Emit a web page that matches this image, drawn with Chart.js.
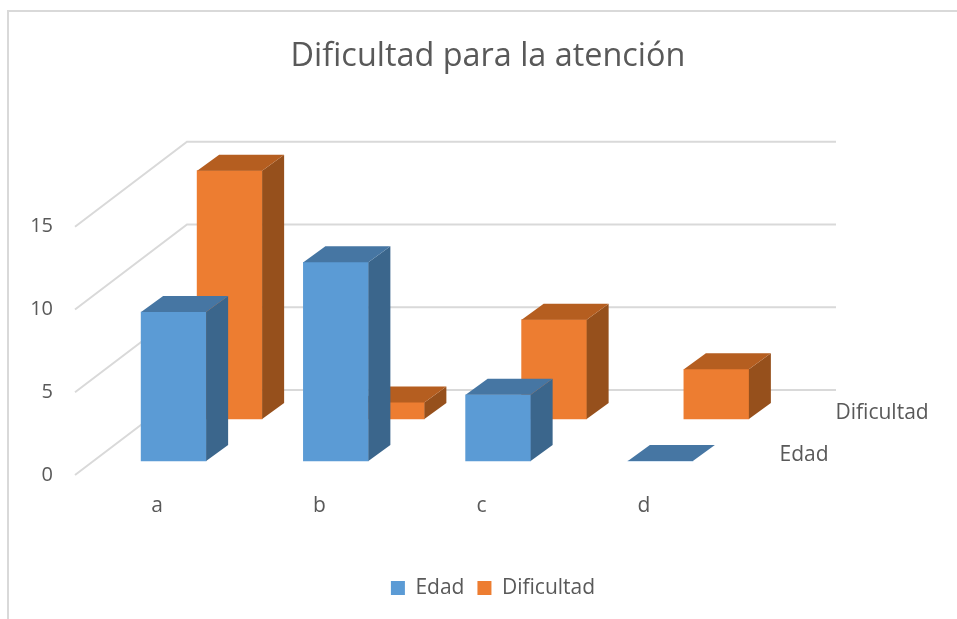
<!DOCTYPE html>
<html>
<head>
<meta charset="utf-8">
<style>
  html, body { margin: 0; padding: 0; background: #fff; overflow: hidden; }
  #frame { position: absolute; left: 7px; top: 10px; width: 950px; height: 609px; border-left: 2px solid #d9d9d9; border-top: 2px solid #d9d9d9; box-sizing: border-box; }
  #chart { position: absolute; left: 0; top: 0; }
</style>
</head>
<body>
<div id="frame"></div>
<canvas id="chart" width="957" height="619"></canvas>
<script src="https://cdn.jsdelivr.net/npm/chart.js@4"></script>
<script>
const categories = ["a", "b", "c", "d"];
const edad = [9, 12, 4, 0];
const dificultad = [15, 1, 6, 3];

const textColor = "#595959";
const fontFamily = "'Open Sans', sans-serif";

// how far each series row sits behind the front of the box
const rows = [
    { dx: 16.5, dy: -14, side: "#3b668c", top: "#4676a3" },
    { dx: 72.5, dy: -56, side: "#96501c", top: "#b55e20" },
];
const barDepth = { dx: 22, dy: -16 };
const wallDepth = { dx: 112, dy: -85 };

// back wall, side wall
const wallsPlugin = {
    id: "walls",
    afterLayout(chart) {
        // legend sits a little right of the title
        chart.legend.left += 10;
    },
    beforeDatasetsDraw(chart) {
        const { ctx, chartArea, scales } = chart;
        ctx.save();
        ctx.strokeStyle = "#d9d9d9";
        ctx.lineWidth = 2;
        scales.y.ticks.forEach(t => {
            const y = scales.y.getPixelForValue(t.value);
            ctx.beginPath();
            ctx.moveTo(chartArea.left - 1, y);
            ctx.lineTo(chartArea.left - 1 + wallDepth.dx, y + wallDepth.dy);
            ctx.lineTo(chartArea.right + wallDepth.dx - 1, y + wallDepth.dy);
            ctx.stroke();
        });
        ctx.restore();
    },
    beforeDatasetDraw(chart, args) {
        const row = rows[args.index];
        chart.ctx.save();
        chart.ctx.translate(row.dx, row.dy);
    },
    afterDatasetDraw(chart, args) {
        const { ctx } = chart;
        const row = rows[args.index];
        args.meta.data.forEach(bar => {
            const p = bar.getProps(["x", "y", "base", "width"], true);
            const l = p.x - p.width / 2;
            const r = p.x + p.width / 2;
            ctx.fillStyle = row.side;
            ctx.beginPath();
            ctx.moveTo(r, p.y);
            ctx.lineTo(r + barDepth.dx, p.y + barDepth.dy);
            ctx.lineTo(r + barDepth.dx, p.base + barDepth.dy);
            ctx.lineTo(r, p.base);
            ctx.closePath();
            ctx.fill();
            ctx.fillStyle = row.top;
            ctx.beginPath();
            ctx.moveTo(l, p.y);
            ctx.lineTo(l + barDepth.dx, p.y + barDepth.dy);
            ctx.lineTo(r + barDepth.dx, p.y + barDepth.dy);
            ctx.lineTo(r, p.y);
            ctx.closePath();
            ctx.fill();
        });
        ctx.restore();
    },
    // series names along the depth axis
    afterDraw(chart) {
        const { ctx, chartArea, scales } = chart;
        ctx.save();
        ctx.font = "21px " + fontFamily;
        ctx.fillStyle = textColor;
        ctx.textBaseline = "middle";
        ctx.textAlign = "left";
        chart.data.datasets.forEach((ds, i) => {
            ctx.fillText(ds.label, chartArea.right + rows[i].dx + 38, scales.y.getPixelForValue(0) + rows[i].dy - 6);
        });
        ctx.restore();
    }
};

new Chart(document.getElementById("chart"), {
    type: "bar",
    data: {
        labels: categories,
        datasets: [
            { label: "Edad", data: edad, backgroundColor: "#5b9bd5", barThickness: 65, grouped: false, clip: false },
            { label: "Dificultad", data: dificultad, backgroundColor: "#ed7d31", barThickness: 65, grouped: false, clip: false },
        ]
    },
    plugins: [wallsPlugin],
    options: {
        responsive: false,
        animation: false,
        layout: { padding: { left: 19, right: 0, top: 0, bottom: 10.5 } },
        plugins: {
            title: {
                display: true,
                text: "Dificultad para la atención",
                color: textColor,
                font: { family: fontFamily, size: 32.4, weight: "normal" },
                padding: { top: 37.5, bottom: 150.3 },
            },
            legend: {
                position: "bottom",
                labels: {
                    color: textColor,
                    boxWidth: 14,
                    boxHeight: 14,
                    padding: 13,
                    font: { family: fontFamily, size: 21 },
                },
            },
            tooltip: { enabled: false },
        },
        scales: {
            x: {
                afterFit(scale) { scale.height = 89.5; },
                grid: { display: false },
                border: { display: false },
                ticks: { color: textColor, padding: 10, font: { family: fontFamily, size: 21 } },
            },
            y: {
                min: 0,
                max: 15,
                afterFit(scale) { scale.width = 57; },
                grid: { display: false },
                border: { display: false },
                ticks: { stepSize: 5, color: textColor, padding: 15, font: { family: fontFamily, size: 20 } },
            },
            // empty axis, keeps the room for the depth of the box on the right
            side: {
                position: "right",
                afterFit(scale) { scale.width = 232; },
                grid: { display: false },
                border: { display: false },
                ticks: { display: false },
            },
        },
    },
});
</script>
</body>
</html>
